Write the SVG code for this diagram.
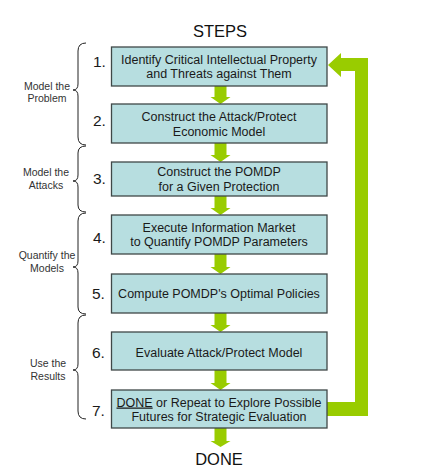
<svg xmlns="http://www.w3.org/2000/svg" width="433" height="476" viewBox="0 0 433 476">
<style>
.box{fill:#b7dee0;stroke:#3f4848;stroke-width:1.3}
.t{font-family:"Liberation Sans",Arial,sans-serif;font-size:12.5px;fill:#1a1a1a;text-anchor:middle}
.n{font-family:"Liberation Sans",Arial,sans-serif;font-size:15.5px;fill:#1a1a1a}
.s{font-family:"Liberation Sans",Arial,sans-serif;font-size:10.5px;fill:#333;text-anchor:middle}
.h{font-family:"Liberation Sans",Arial,sans-serif;font-size:16.5px;fill:#111;text-anchor:middle}
.g{fill:#99cc00}
.br{fill:none;stroke:#222;stroke-width:1}
</style>
<rect width="433" height="476" fill="#fff"/>
<text class="h" x="220" y="36.5">STEPS</text>
<g id="connectors">
<path class="g" d="M214.5,86 L226.5,86 L226.5,97 L230.5,97 L220.5,104 L210.5,97 L214.5,97 Z"/>
<path class="g" d="M214.5,143 L226.5,143 L226.5,155 L230.5,155 L220.5,162 L210.5,155 L214.5,155 Z"/>
<path class="g" d="M214.5,196 L226.5,196 L226.5,208 L230.5,208 L220.5,215 L210.5,208 L214.5,208 Z"/>
<path class="g" d="M214.5,254 L226.5,254 L226.5,267 L230.5,267 L220.5,274 L210.5,267 L214.5,267 Z"/>
<path class="g" d="M214.5,313 L226.5,313 L226.5,325 L230.5,325 L220.5,332 L210.5,325 L214.5,325 Z"/>
<path class="g" d="M214.5,370 L226.5,370 L226.5,383 L230.5,383 L220.5,390 L210.5,383 L214.5,383 Z"/>
<path class="g" d="M214.5,428 L226.5,428 L226.5,441 L230.5,441 L220.5,447 L210.5,441 L214.5,441 Z"/>
<path class="g" d="M327,402 L355,402 L355,71 L341,71 L341,77 L328,65 L341,53 L341,58 L368,58 L368,416 L327,416 Z"/>
</g>
<g id="step1"><rect class="box" x="111.5" y="47" width="215.5" height="39"/><text class="n" x="93" y="67">1.</text><text class="t" x="219" y="63.5">Identify Critical Intellectual Property</text><text class="t" x="219" y="78">and Threats against Them</text></g>
<g id="step2"><rect class="box" x="111.5" y="104" width="215.5" height="39"/><text class="n" x="93" y="126">2.</text><text class="t" x="219" y="120.5">Construct the Attack/Protect</text><text class="t" x="219" y="135.5">Economic Model</text></g>
<g id="step3"><rect class="box" x="111.5" y="162" width="215.5" height="34"/><text class="n" x="93" y="184">3.</text><text class="t" x="219" y="175.5">Construct the POMDP</text><text class="t" x="219" y="190.5">for a Given Protection</text></g>
<g id="step4"><rect class="box" x="111.5" y="215" width="215.5" height="39"/><text class="n" x="93" y="243">4.</text><text class="t" x="219" y="231.5">Execute Information Market</text><text class="t" x="219" y="246">to Quantify POMDP Parameters</text></g>
<g id="step5"><rect class="box" x="111.5" y="274" width="215.5" height="39"/><text class="n" x="92" y="299">5.</text><text class="t" x="219" y="297.5">Compute POMDP's Optimal Policies</text></g>
<g id="step6"><rect class="box" x="111.5" y="332" width="215.5" height="38"/><text class="n" x="92" y="358">6.</text><text class="t" x="219" y="356.5">Evaluate Attack/Protect Model</text></g>
<g id="step7"><rect class="box" x="111.5" y="390" width="215.5" height="38"/><text class="n" x="92" y="416">7.</text><text class="t" x="219" y="406.5"><tspan text-decoration="underline">DONE</tspan> or Repeat to Explore Possible</text><text class="t" x="219" y="420.5">Futures for Strategic Evaluation</text></g>
<g id="done"><text class="h" x="219" y="465">DONE</text></g>
<g id="phase1"><path class="br" d="M86,43 Q78,43 78,51 L78,84 Q78,90 73,90 Q78,90 78,96 L78,137 Q78,145 86,145"/><text class="s" x="47" y="89.5">Model the</text><text class="s" x="47" y="102">Problem</text></g>
<g id="phase2"><path class="br" d="M86,146 Q78,146 78,153 L78,175 Q78,181 73,181 Q78,181 78,187 L78,205 Q78,212 86,212"/><text class="s" x="46" y="176">Model the</text><text class="s" x="46" y="188.5">Attacks</text></g>
<g id="phase3"><path class="br" d="M86,213 Q78,213 78,221 L78,261 Q78,267 73,267 Q78,267 78,273 L78,307 Q78,314 86,314"/><text class="s" x="47" y="259">Quantify the</text><text class="s" x="47" y="272">Models</text></g>
<g id="phase4"><path class="br" d="M86,315 Q78,315 78,323 L78,364 Q78,370 73,370 Q78,370 78,376 L78,411 Q78,419 86,419"/><text class="s" x="48" y="367">Use the</text><text class="s" x="48" y="379.5">Results</text></g>
</svg>
